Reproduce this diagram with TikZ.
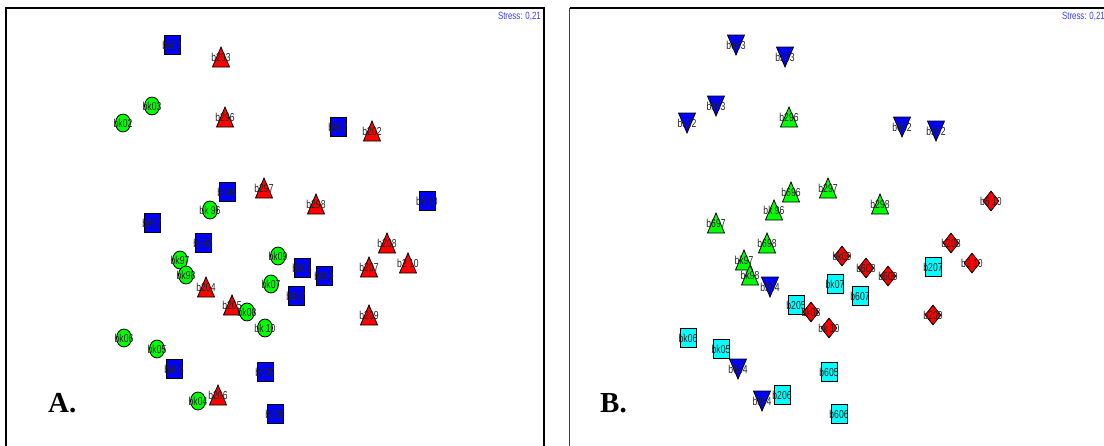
\documentclass[tikz,border=0pt]{standalone}
\usepackage{graphicx}
\usepackage{fontspec}
\setmainfont{Liberation Sans}
\newfontfamily\mdsserif{Liberation Serif}
\usetikzlibrary{shapes.geometric}
\definecolor{mblue}{RGB}{0,0,255}
\definecolor{mred}{RGB}{255,0,0}
\definecolor{mgreen}{RGB}{0,255,0}
\definecolor{mcyan}{RGB}{0,255,255}
\definecolor{stressblue}{RGB}{60,60,255}
\definecolor{labgray}{RGB}{35,35,35}
\newcommand\mdslbl[1]{\scalebox{0.82}[1.1]{#1}}
\tikzset{
  outl/.style={draw=black, line width=0.8pt},
  sqshape/.style={outl, rectangle, inner sep=0pt, minimum width=16pt, minimum height=19pt},
  ellshape/.style={outl, ellipse, inner sep=0pt, minimum width=15pt, minimum height=18pt},
  diashape/.style={outl, diamond, inner sep=0pt, minimum width=16pt, minimum height=20pt},
  lab/.style={inner sep=0pt, text=labgray, font=\fontsize{10.5}{10.5}\selectfont},
  stresslab/.style={inner sep=0pt, text=stressblue, anchor=east, font=\fontsize{10.5}{10.5}\selectfont},
  panellab/.style={inner sep=0pt, anchor=base west, font=\fontsize{29}{29}\selectfont\mdsserif\bfseries},
  frame/.style={draw=black, line width=1.1pt}
}
\begin{document}
\begin{tikzpicture}[x=1pt,y=-1pt]
\useasboundingbox (0,0) rectangle (1104,445);
\clip (0,0) rectangle (1104,445);
% point positions (panel A)
\foreach \n/\x/\y in {
  b603/172/45, b602/338/127, b696/227/192, b610/427/201, b697/152/223, b698/203/243,
  b608/302/268, b609/324/276, b607/296/296, b604/174/369, b605/265/372, b606/275/414,
  b203/221/57, b296/225/117, b202/372/131, b297/264/188, b298/316/204, b208/387/243,
  b207/369/267, b210/408/263, b204/206/287, b205/232/305, b209/369/315, b206/218/395,
  bk03/152/106, bk02/123/123, bk96/210/210, bk97/180/260, bk98/186/275, bk09/278/256,
  bk07/271/284, bk08/247/312, bk10/265/328, bk06/124/338, bk05/157/349, bk04/198/401}
{
  \coordinate (p-\n) at (\x,\y);
  \coordinate (q-\n) at (\x+564,\y);
}
% frames
\draw[frame] (6,460) -- (6,8) -- (544,8) -- (544,460);
\draw[frame, draw=black!75] (569.5,460) -- (569.5,8);
\draw[frame] (569.5,8) -- (1110,8) -- (1110,460);
% ---------- panel A ----------
\foreach \n in {b203,b296,b202,b297,b298,b208,b207,b210,b204,b205,b209,b206}
  \draw[outl, fill=mred, shift={(p-\n)}] (-8.5,10) -- (8.5,10) -- (0,-10) -- cycle;
\foreach \n in {b603,b602,b696,b610,b697,b698,b608,b609,b607,b604,b605,b606}
  \node[sqshape, fill=mblue] (sa-\n) at (p-\n) {};
\foreach \n in {bk03,bk02,bk96,bk97,bk98,bk09,bk07,bk08,bk10,bk06,bk05,bk04}
  \node[ellshape, fill=mgreen] (sa-\n) at (p-\n) {};
% ---------- panel B ----------
\foreach \n in {b603,b203,bk03,bk02,b602,b202,b204,b604,bk04}
  \draw[outl, fill=mblue, shift={(q-\n)}] (-8.5,-10) -- (8.5,-10) -- (0,10) -- cycle;
\foreach \n in {b296,b696,bk96,b297,b298,b697,b698,bk97,bk98}
  \draw[outl, fill=mgreen, shift={(q-\n)}] (-8.5,10) -- (8.5,10) -- (0,-10) -- cycle;
\foreach \n in {b205,bk07,b607,b207,b605,b606,b206,bk05,bk06}
  \node[sqshape, fill=mcyan] (sb-\n) at (q-\n) {};
\foreach \n in {b610,bk09,b608,b609,b208,b210,b209,bk08,bk10}
  \node[diashape, fill=mred] (sb-\n) at (q-\n) {};
% ---------- labels ----------
\foreach \n/\t in {
  b603/b603, b602/b602, b696/b696, b610/b6 10, b697/b697, b698/b698,
  b608/b608, b609/b609, b607/b607, b604/b604, b605/b605, b606/b606,
  b203/b203, b296/b296, b202/b202, b297/b297, b298/b298, b208/b208,
  b207/b207, b210/b2 10, b204/b204, b205/b205, b209/b209, b206/b206,
  bk03/bk03, bk02/bk02, bk96/bk 96, bk97/bk97, bk98/bk98, bk09/bk09,
  bk07/bk07, bk08/bk08, bk10/bk 10, bk06/bk06, bk05/bk05, bk04/bk04}
{
  \node[lab] (la-\n) at (p-\n) {\mdslbl{\t}};
  \node[lab] (lb-\n) at (q-\n) {\mdslbl{\t}};
}
\node[stresslab] (stressA) at (541,17) {\scalebox{0.75}[1]{Stress: 0,21}};
\node[stresslab] (stressB) at (1105,17) {\scalebox{0.75}[1]{Stress: 0,21}};
\node[panellab] (labA) at (48,412) {A.};
\node[panellab] (labB) at (600,412) {B.};
\end{tikzpicture}
\end{document}
